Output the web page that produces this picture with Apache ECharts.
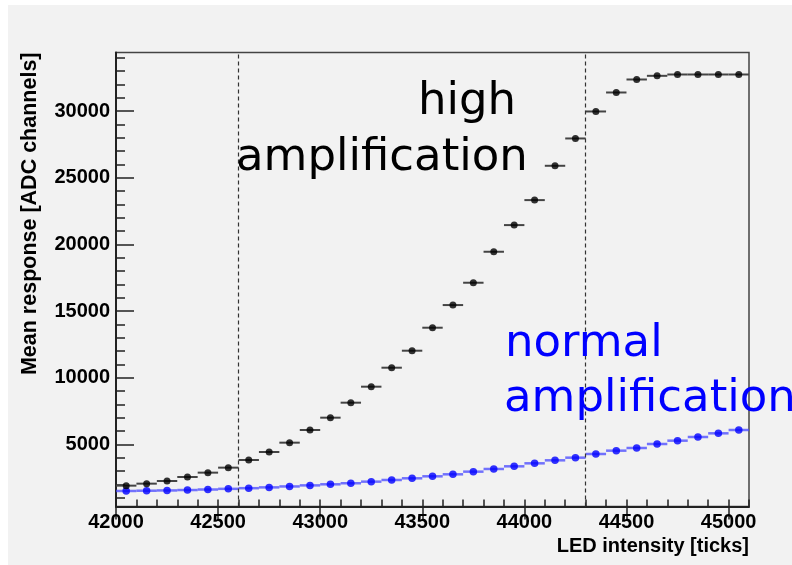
<!DOCTYPE html>
<html>
<head>
<meta charset="utf-8">
<script src="https://cdn.jsdelivr.net/npm/echarts@6/dist/echarts.min.js"></script>
<style>html,body{margin:0;padding:0;background:#fff;}#c{width:792px;height:565px;}</style>
</head>
<body>
<div id="c"></div>
<script>
// LED intensity bin centres [ticks]
const ledTicks = [42050,42150,42250,42350,42450,42550,42650,42750,42850,42950,
  43050,43150,43250,43350,43450,43550,43650,43750,43850,43950,
  44050,44150,44250,44350,44450,44550,44650,44750,44850,44950,45050];
const binHalfWidth = 50;
// Mean response [ADC channels]
const highAmp = [1900,2050,2250,2550,2875,3250,3825,4425,5125,6075,
  7000,8125,9325,10750,12025,13750,15450,17125,19450,21450,
  23325,25900,27950,29975,31400,32375,32650,32750,32750,32750,32750];
const normalAmp = [1500,1520,1540,1570,1610,1660,1710,1770,1840,1920,
  2000,2080,2200,2325,2450,2600,2750,2950,3150,3350,
  3575,3800,4000,4275,4525,4725,5025,5275,5550,5825,6075];
const markerLines = [42600, 44300];
const xMajorTicks = [42000,42500,43000,43500,44000,44500,45000];
const xMinorTicks = [];
for (let v = 42000; v <= 45100; v += 100) xMinorTicks.push(v);
const yMajorTicks = [5000,10000,15000,20000,25000,30000];
const yMinorTicks = [];
for (let v = 1000; v <= 34000; v += 1000) yMinorTicks.push(v);
const xRange = [42000, 45100];
const yRange = [335, 34400];

const highData = ledTicks.map((x, i) => [x, highAmp[i]]);
const normalData = ledTicks.map((x, i) => [x, normalAmp[i]]);

function errBar(color, width) {
  return function (params, api) {
    const x = api.value(0), y = api.value(1);
    const p1 = api.coord([x - binHalfWidth, y]);
    const p2 = api.coord([x + binHalfWidth, y]);
    return {
      type: 'line',
      shape: { x1: p1[0], y1: p1[1], x2: p2[0], y2: p2[1] },
      style: { stroke: color, lineWidth: width }
    };
  };
}

const labelFont = { fontFamily: 'Liberation Sans, Arial, sans-serif', fontWeight: 'bold', fontSize: 20, color: '#000' };

const chart = echarts.init(document.getElementById('c'), null, { renderer: 'canvas' });
chart.setOption({
  animation: false,
  backgroundColor: '#fff',
  graphic: [
    { type: 'rect', z: -10, shape: { x: 8, y: 5, width: 784, height: 560 }, style: { fill: '#f2f2f2' } },
    { type: 'text', z: 10, left: 418, top: 80, style: { text: 'high', font: '45px "DejaVu Sans"', fill: '#000' } },
    { type: 'text', z: 10, left: 236, top: 136, style: { text: 'amplification', font: '45px "DejaVu Sans"', fill: '#000' } },
    { type: 'text', z: 10, left: 505, top: 322, style: { text: 'normal', font: '45px "DejaVu Sans"', fill: '#0000ff' } },
    { type: 'text', z: 10, left: 504, top: 377, style: { text: 'amplification', font: '45px "DejaVu Sans"', fill: '#0000ff' } }
  ],
  grid: { left: 116, right: 43, top: 52.5, bottom: 58.5, show: true, borderColor: '#444', borderWidth: 1.5, backgroundColor: 'transparent' },
  xAxis: [
    {
      type: 'value', min: xRange[0], max: xRange[1],
      name: 'LED intensity [ticks]', nameLocation: 'end', nameGap: 0,
      nameTextStyle: Object.assign({}, labelFont, { align: 'right', verticalAlign: 'top', padding: [30, 0, 0, 0] }),
      axisLine: { show: true, onZero: false, lineStyle: { color: '#222', width: 2 } },
      axisTick: { show: true, length: 13, customValues: xMajorTicks, lineStyle: { color: '#222', width: 1.5 } },
      axisLabel: Object.assign({}, labelFont, { customValues: xMajorTicks, margin: 6, formatter: v => String(v) }),
      splitLine: { show: false }
    },
    {
      type: 'value', min: xRange[0], max: xRange[1], position: 'bottom',
      axisLine: { show: false },
      axisTick: { show: true, inside: true, length: 7, customValues: xMinorTicks, lineStyle: { color: '#222', width: 1.5 } },
      axisLabel: { show: false }, splitLine: { show: false }
    }
  ],
  yAxis: [
    {
      type: 'value', min: yRange[0], max: yRange[1],
      name: 'Mean response [ADC channels]', nameLocation: 'end', nameRotate: 90, nameGap: 0,
      nameTextStyle: Object.assign({}, labelFont, { fontSize: 21.5, align: 'right', verticalAlign: 'bottom', padding: [0, 0, 75, 0] }),
      axisLine: { show: true, onZero: false, lineStyle: { color: '#222', width: 2 } },
      axisTick: { show: true, inside: true, length: 18, customValues: yMajorTicks, lineStyle: { color: '#222', width: 1.5 } },
      axisLabel: Object.assign({}, labelFont, { customValues: yMajorTicks, margin: 6, formatter: v => String(v) }),
      splitLine: { show: false }
    },
    {
      type: 'value', min: yRange[0], max: yRange[1], position: 'left',
      axisLine: { show: false },
      axisTick: { show: true, inside: true, length: 9, customValues: yMinorTicks, lineStyle: { color: '#222', width: 1.5 } },
      axisLabel: { show: false }, splitLine: { show: false }
    }
  ],
  series: [
    {
      type: 'custom', name: 'normal-err', data: normalData, renderItem: errBar('rgba(70,70,255,0.75)', 2.5), z: 3,
      markLine: {
        silent: true, symbol: 'none', label: { show: false },
        lineStyle: { color: '#333', type: [4, 3], width: 1.2 },
        data: markerLines.map(v => ({ xAxis: v }))
      }
    },
    { type: 'custom', name: 'high-err', data: highData, renderItem: errBar('#444', 2), z: 3 },
    { type: 'scatter', name: 'normal', data: normalData, symbol: 'circle', symbolSize: 7.5, itemStyle: { color: '#0000ff' }, z: 4 },
    { type: 'scatter', name: 'high', data: highData, symbol: 'circle', symbolSize: 7, itemStyle: { color: '#000' }, z: 4 }
  ]
});
</script>
</body>
</html>
